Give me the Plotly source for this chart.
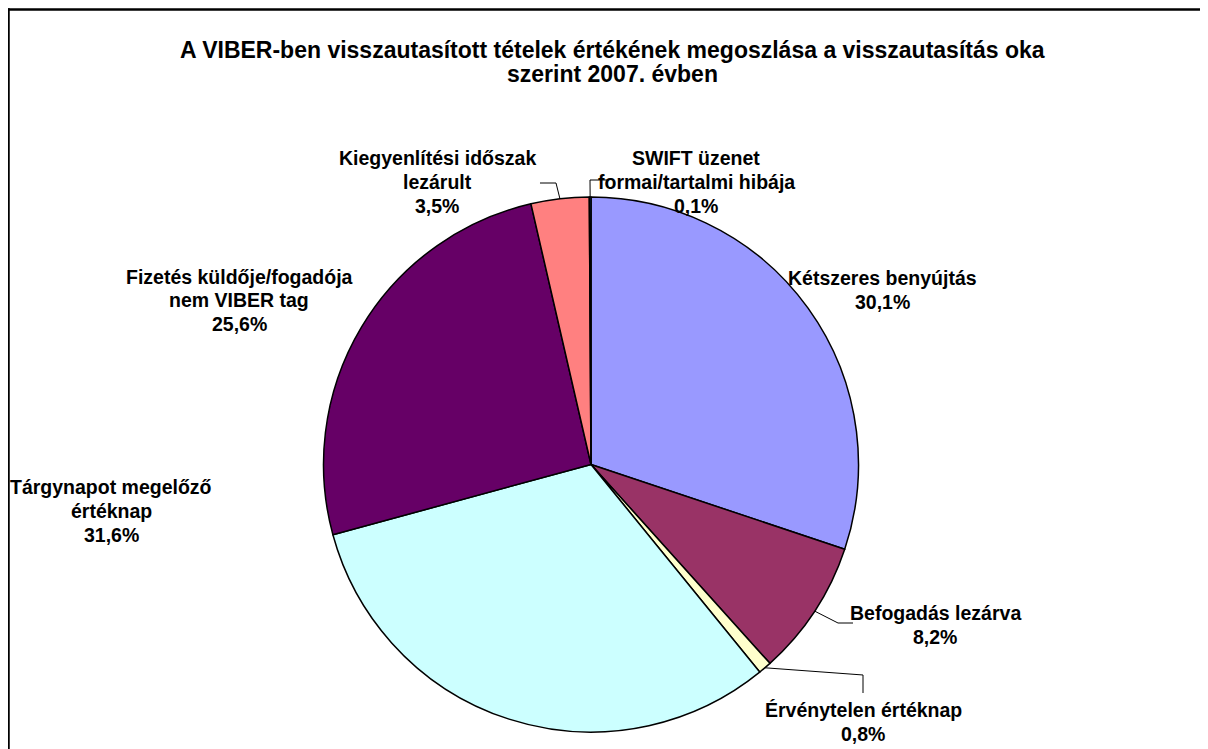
import math
import plotly.graph_objects as go

# ---- data ----
categories = [
    "Kétszeres benyújtás",
    "Befogadás lezárva",
    "Érvénytelen értéknap",
    "Tárgynapot megelőző értéknap",
    "Fizetés küldője/fogadója nem VIBER tag",
    "Kiegyenlítési időszak lezárult",
    "SWIFT üzenet formai/tartalmi hibája",
]
values = [30.1, 8.2, 0.8, 31.6, 25.6, 3.5, 0.1]
label_lines = [
    ["Kétszeres benyújtás"],
    ["Befogadás lezárva"],
    ["Érvénytelen értéknap"],
    ["Tárgynapot megelőző", "értéknap"],
    ["Fizetés küldője/fogadója", "nem VIBER tag"],
    ["Kiegyenlítési időszak", "lezárult"],
    ["SWIFT üzenet", "formai/tartalmi hibája"],
]
colors = ["#9999FF", "#993366", "#FFFFCC", "#CCFFFF", "#660066", "#FF8080", "#0066CC"]
title_lines = ["A VIBER-ben visszautasított tételek értékének megoszlása a visszautasítás oka",
               "szerint 2007. évben"]

# ---- layout geometry ----
# page body has an 8px margin, so the figure starts at (8, 8) on screen
OFF = 8
W, H = 1200, 741
CX, CY, R = 591.0, 464.5, 267.5      # screen pixels
FONT = "Liberation Sans, Arial, sans-serif"
FS = 19.5
TFS = 23
LINE = 23.5

def px(x):
    return (x - OFF) / W

def py(y):
    return 1 - (y - OFF) / H

# label block centre positions (screen pixels)
label_pos = [
    (882, 290),
    (935, 625),
    (863, 722),
    (111, 511),
    (239, 300),
    (437, 182),
    (696, 182),
]
# leader elbows / ends (screen pixels); None -> no leader
leaders = [
    None,
    [(838, 623), (853, 623)],
    [(863, 675), (863, 693)],
    None,
    None,
    [(556, 183), (540, 183)],
    [(590, 180), (607, 180)],
]

fig = go.Figure()
fig.add_trace(go.Pie(
    labels=categories,
    values=values,
    sort=False,
    direction="clockwise",
    rotation=0,
    textinfo="none",
    marker=dict(colors=colors, line=dict(color="#000000", width=1.5)),
    domain=dict(x=[px(CX - R), px(CX + R)], y=[py(CY + R), py(CY - R)]),
    showlegend=False,
))

annotations = []
shapes = []

def add_lines(lines, cx, cy, size, spacing):
    n = len(lines)
    for k, t in enumerate(lines):
        y = cy + (k - (n - 1) / 2) * spacing
        annotations.append(dict(
            x=px(cx), y=py(y), xref="paper", yref="paper",
            text="<b>" + t + "</b>",
            showarrow=False, xanchor="center", yanchor="middle", align="center",
            font=dict(family=FONT, size=size, color="#000000"),
        ))

# title
add_lines(title_lines, 612, 62, TFS, 24)

total = sum(values)
cum = 0.0
for i, v in enumerate(values):
    mid = (cum + v / 2) / total
    cum += v
    ang = 2 * math.pi * mid
    ex = CX + R * math.sin(ang)
    ey = CY - R * math.cos(ang)
    pct = f"{v:.1f}%".replace(".", ",")
    lx, ly = label_pos[i]
    add_lines(label_lines[i] + [pct], lx, ly, FS, LINE)
    if leaders[i]:
        pts = [(ex, ey)] + leaders[i]
        path = "M " + " L ".join(f"{px(x):.5f},{py(y):.5f}" for x, y in pts)
        shapes.append(dict(type="path", xref="paper", yref="paper", path=path,
                           line=dict(color="#000000", width=1)))

# outer chart frame: only top and left edges fall inside the visible area
shapes.append(dict(type="line", xref="paper", yref="paper",
                   x0=px(7.25), x1=px(OFF + W + 30), y0=py(9.5), y1=py(9.5),
                   line=dict(color="#000000", width=2.5)))
shapes.append(dict(type="line", xref="paper", yref="paper",
                   x0=px(8.5), x1=px(8.5), y0=py(8.25), y1=py(OFF + H + 30),
                   line=dict(color="#000000", width=2.5)))

fig.update_layout(
    width=W, height=H,
    margin=dict(l=0, r=0, t=0, b=0),
    paper_bgcolor="#FFFFFF",
    plot_bgcolor="#FFFFFF",
    annotations=annotations,
    shapes=shapes,
    showlegend=False,
)

fig.write_html("out.html")
